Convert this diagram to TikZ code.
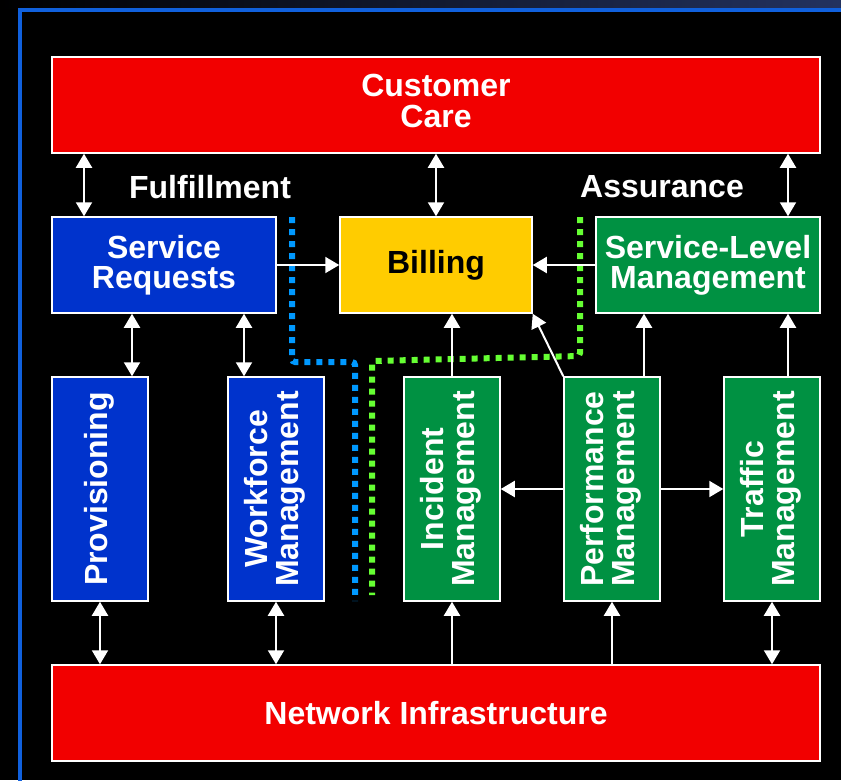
\documentclass[tikz,border=0pt]{standalone}
\usepackage{fontspec}
\setmainfont{Liberation Sans}
\usetikzlibrary{positioning,arrows.meta}
\definecolor{carered}{RGB}{242,0,0}
\definecolor{fulblue}{RGB}{0,51,204}
\definecolor{assgreen}{RGB}{0,145,66}
\definecolor{billyellow}{RGB}{255,204,0}
\definecolor{frameblue}{RGB}{16,96,220}
\definecolor{dotblue}{RGB}{0,153,255}
\definecolor{dotgreen}{RGB}{102,255,51}
% upright text turned on its side
\newcommand\vtext[1]{\rotatebox{90}{\begin{tabular}{@{}c@{}}#1\end{tabular}}}

\begin{document}
\begin{tikzpicture}[x=1pt, y=-1pt,
  box/.style={draw=white, line width=1.5pt, text=white, align=center, inner sep=0pt,
              font=\fontsize{32}{30}\selectfont\bfseries},
  wide/.style={box, fill=carered, minimum width=768pt, minimum height=96pt},
  flat/.style={box, minimum width=224pt, minimum height=96pt},
  tall/.style={box, minimum width=96pt, minimum height=224pt},
  lbl/.style={text=white, inner sep=0pt, font=\fontsize{32}{30}\selectfont\bfseries},
  link/.style={draw=white, line width=2pt, -{Triangle[width=16pt,length=14pt]}},
  dbl/.style={link, {Triangle[width=16pt,length=14pt]}-{Triangle[width=16pt,length=14pt]}},
  sep/.style={line width=6pt, dash pattern=on 6pt off 6pt, rounded corners=3pt}]
 \useasboundingbox (0,0) rectangle (841,780);
 \clip (0,0) rectangle (841,780);
 \fill[black] (0,0) rectangle (841,780);
 \shade[left color=black, right color={rgb,255:red,35;green,50;blue,95}] (0,0) rectangle (841,8);
 \draw[frameblue, line width=4pt] (850,9.5) -- (20,9.5) -- (20,790);

 % boxes
 \node[wide] (care) at (436,105) {\raisebox{4pt}{\begin{tabular}{@{}c@{}}Customer\\Care\end{tabular}}};
 \node[flat, fill=fulblue] (req) at (164,265) {Service\\Requests};
 \node[box, fill=billyellow, text=black, minimum width=192pt, minimum height=96pt] (bill) at (436,265) {Billing};
 \node[flat, fill=assgreen] (slm) at (708,265) {Service-Level\\Management};
 \node[tall, fill=fulblue] (prov) at (100,489) {\vtext{Provisioning}};
 \node[tall, fill=fulblue] (work) at (276,489) {\vtext{Workforce\\Management}};
 \node[tall, fill=assgreen] (inc) at (452,489) {\vtext{Incident\\Management}};
 \node[tall, fill=assgreen] (perf) at (612,489) {\vtext{Performance\\Management}};
 \node[tall, fill=assgreen] (traf) at (772,489) {\vtext{Traffic\\Management}};
 \node[wide] (net) at (436,713) {Network Infrastructure};
 \node[lbl] (ful) at (210,187) {Fulfillment};
 \node[lbl] (ass) at (662,187) {Assurance};

 % separators
 \draw[sep, dotblue] (292,217) -- (292,362) -- (355,362) -- (355,601);
 \draw[sep, dotgreen] (580,217) -- (580,356) -- (372,361) -- (372,595);

 % links
 \draw[dbl] ([xshift=-352pt]care.south) -- ([xshift=-80pt]req.north);
 \draw[dbl] (care.south) -- (bill.north);
 \draw[dbl] ([xshift=352pt]care.south) -- ([xshift=80pt]slm.north);
 \draw[link] (req.east) -- (bill.west);
 \draw[link] (slm.west) -- (bill.east);
 \draw[link] (inc.north) -- ([xshift=16pt]bill.south);
 \draw[link] (perf.north west) -- (bill.south east);
 \draw[link] ([xshift=32pt]perf.north) -- ([xshift=-64pt]slm.south);
 \draw[link] ([xshift=16pt]traf.north) -- ([xshift=80pt]slm.south);
 \draw[dbl] ([xshift=-32pt]req.south) -- ([xshift=32pt]prov.north);
 \draw[dbl] ([xshift=80pt]req.south) -- ([xshift=-32pt]work.north);
 \draw[link] (perf.west) -- (inc.east);
 \draw[link] (perf.east) -- (traf.west);
 \draw[dbl] (prov.south) -- ([xshift=-336pt]net.north);
 \draw[dbl] (work.south) -- ([xshift=-160pt]net.north);
 \draw[link] ([xshift=16pt]net.north) -- (inc.south);
 \draw[link] ([xshift=176pt]net.north) -- (perf.south);
 \draw[dbl] (traf.south) -- ([xshift=336pt]net.north);
\end{tikzpicture}
\end{document}
